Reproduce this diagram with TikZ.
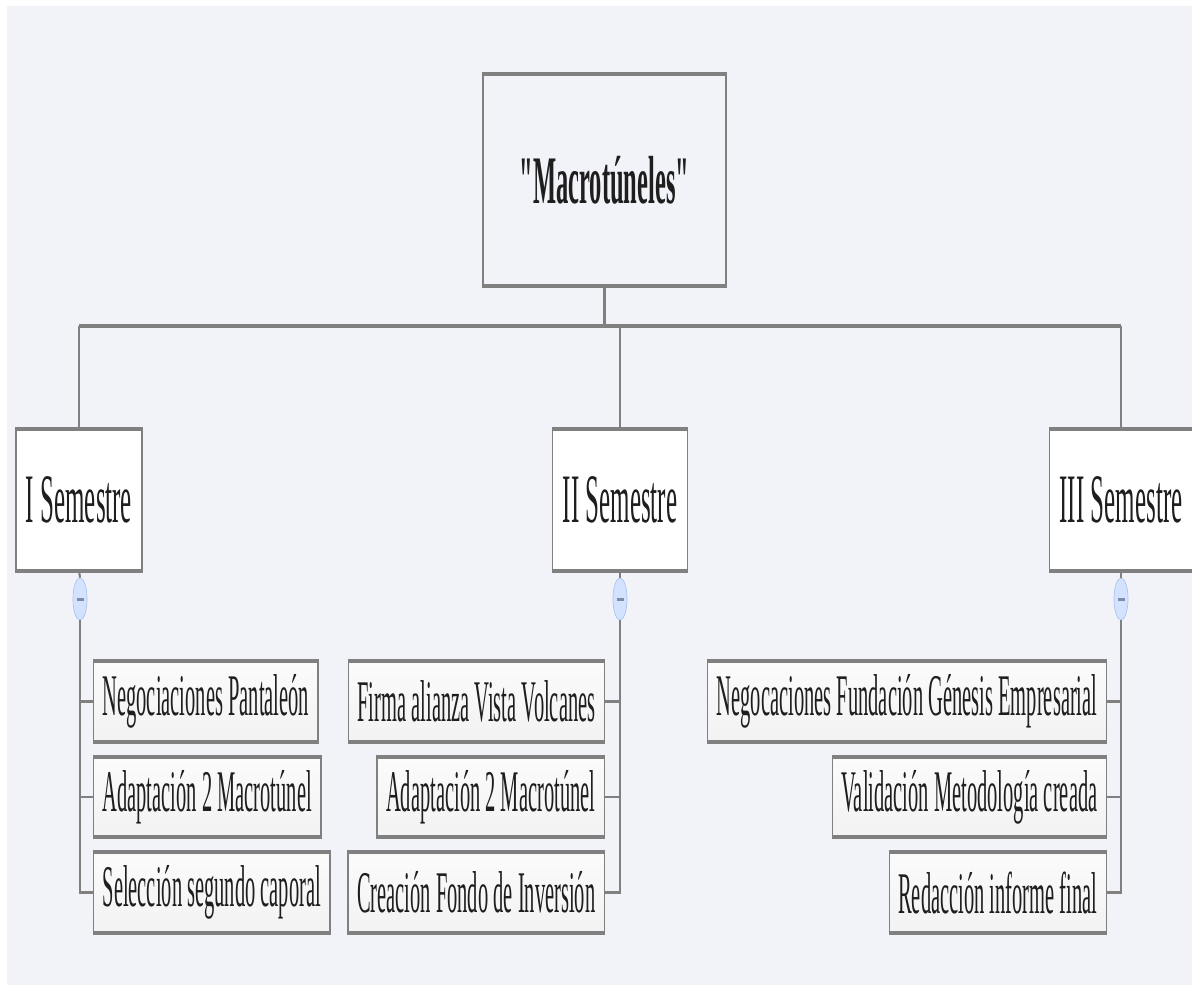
\documentclass[tikz,border=0pt]{standalone}
\usepackage{fontspec}
\setmainfont{Liberation Serif}
\newfontfamily\termfont[FakeStretch=0.36]{Liberation Serif}
\newfontfamily\taskfont[FakeStretch=0.347]{Liberation Serif}
\usetikzlibrary{shapes.geometric}

\definecolor{paper}{HTML}{F2F3F9}
\definecolor{edge}{HTML}{808080}
\definecolor{inkgray}{HTML}{1E1E1E}
\definecolor{knobfill}{HTML}{D3E3FF}
\definecolor{knobline}{HTML}{A9C4EE}
\definecolor{knobbar}{HTML}{7E8CAA}
\newcommand{\knobminus}{\textcolor{knobbar}{\rule{0.14cm}{0.06cm}}}

\begin{document}
\begin{tikzpicture}[x=0.02cm, y=-0.02cm]
		\tikzstyle {title box} = [draw=edge, line width=0.7pt, fill=paper, minimum width=4.86cm, minimum height=4.2cm, text=inkgray, font=\termfont\bfseries\fontsize{38.7}{40}\selectfont]
		\tikzstyle {term box} = [draw=edge, line width=0.7pt, fill=white, minimum height=2.8cm, inner xsep=0.2cm, text=inkgray, font=\termfont\fontsize{39.5}{41}\selectfont]
		\tikzstyle {task box} = [draw=edge, line width=0.7pt, top color=white!97!gray, bottom color=white!90!gray, minimum height=1.58cm, inner xsep=0.18cm, text=inkgray, font=\taskfont\fontsize{33.6}{35}\selectfont]
		\tikzstyle {knob} = [ellipse, draw=knobline, fill=knobfill, minimum width=0.28cm, minimum height=0.84cm, inner sep=0pt]
		\tikzstyle {conn line} = [draw=edge, line width=1.2pt]
		\tikzstyle {bus line} = [draw=edge, line width=1.9pt]
		\tikzstyle {rim} = [draw=edge, line width=2.3pt]

		\useasboundingbox (0,0) rectangle (1192,989);
		\fill[white] (0,0) rectangle (1192,989);
		\fill[paper] (7,6) rectangle (1192,985);

		\node[title box] (root) at (604.5,180) {"Macrotúneles"};

		\node[term box] (sem1) at (79,500) {I Semestre};
		\node[term box] (sem2) at (620,500) {II Semestre};
		\node[term box] (sem3) at (1121,500) {III Semestre};

		\node[knob] (knob1) at (80,599) {\knobminus};
		\node[knob] (knob2) at (620,599) {\knobminus};
		\node[knob] (knob3) at (1121,599) {\knobminus};

		\node[task box, anchor=west] (t11) at (93,701.5) {Negociaciones Pantaleón};
		\node[task box, anchor=west] (t12) at (93,797) {Adaptación 2 Macrotúnel};
		\node[task box, anchor=west] (t13) at (93,892.5) {Selección segundo caporal};

		\node[task box, anchor=east] (t21) at (605,701.5) {Firma alianza Vista Volcanes};
		\node[task box, anchor=east] (t22) at (605,797) {Adaptación 2 Macrotúnel};
		\node[task box, anchor=east] (t23) at (605,892.5) {Creación Fondo de Inversión};

		\node[task box, anchor=east] (t31) at (1107,701.5) {Negocaciones Fundación Génesis Empresarial};
		\node[task box, anchor=east] (t32) at (1107,797) {Validación Metodología creada};
		\node[task box, anchor=east] (t33) at (1107,892.5) {Redacción informe final};

		% thick top and bottom edges
		\foreach \n in {root,sem1,sem2,sem3,t11,t12,t13,t21,t22,t23,t31,t32,t33}
			\draw[rim] (\n.north west) -- (\n.north east) (\n.south west) -- (\n.south east);

		\coordinate (fork) at (604.5,326);
		\draw[conn line] (root.south) -- (fork);
		\draw[bus line] (sem1.north |- fork) -- (sem3.north |- fork);

		\foreach \s/\side in {1/west,2/east,3/east} {
			\draw[conn line] (sem\s.north |- fork) -- (sem\s.north);
			\draw[conn line] (sem\s.south) -- (knob\s.north);
			\foreach \t in {1,2,3}
				\draw[conn line] (knob\s.south) |- (t\s\t.\side);
		}
\end{tikzpicture}
\end{document}
